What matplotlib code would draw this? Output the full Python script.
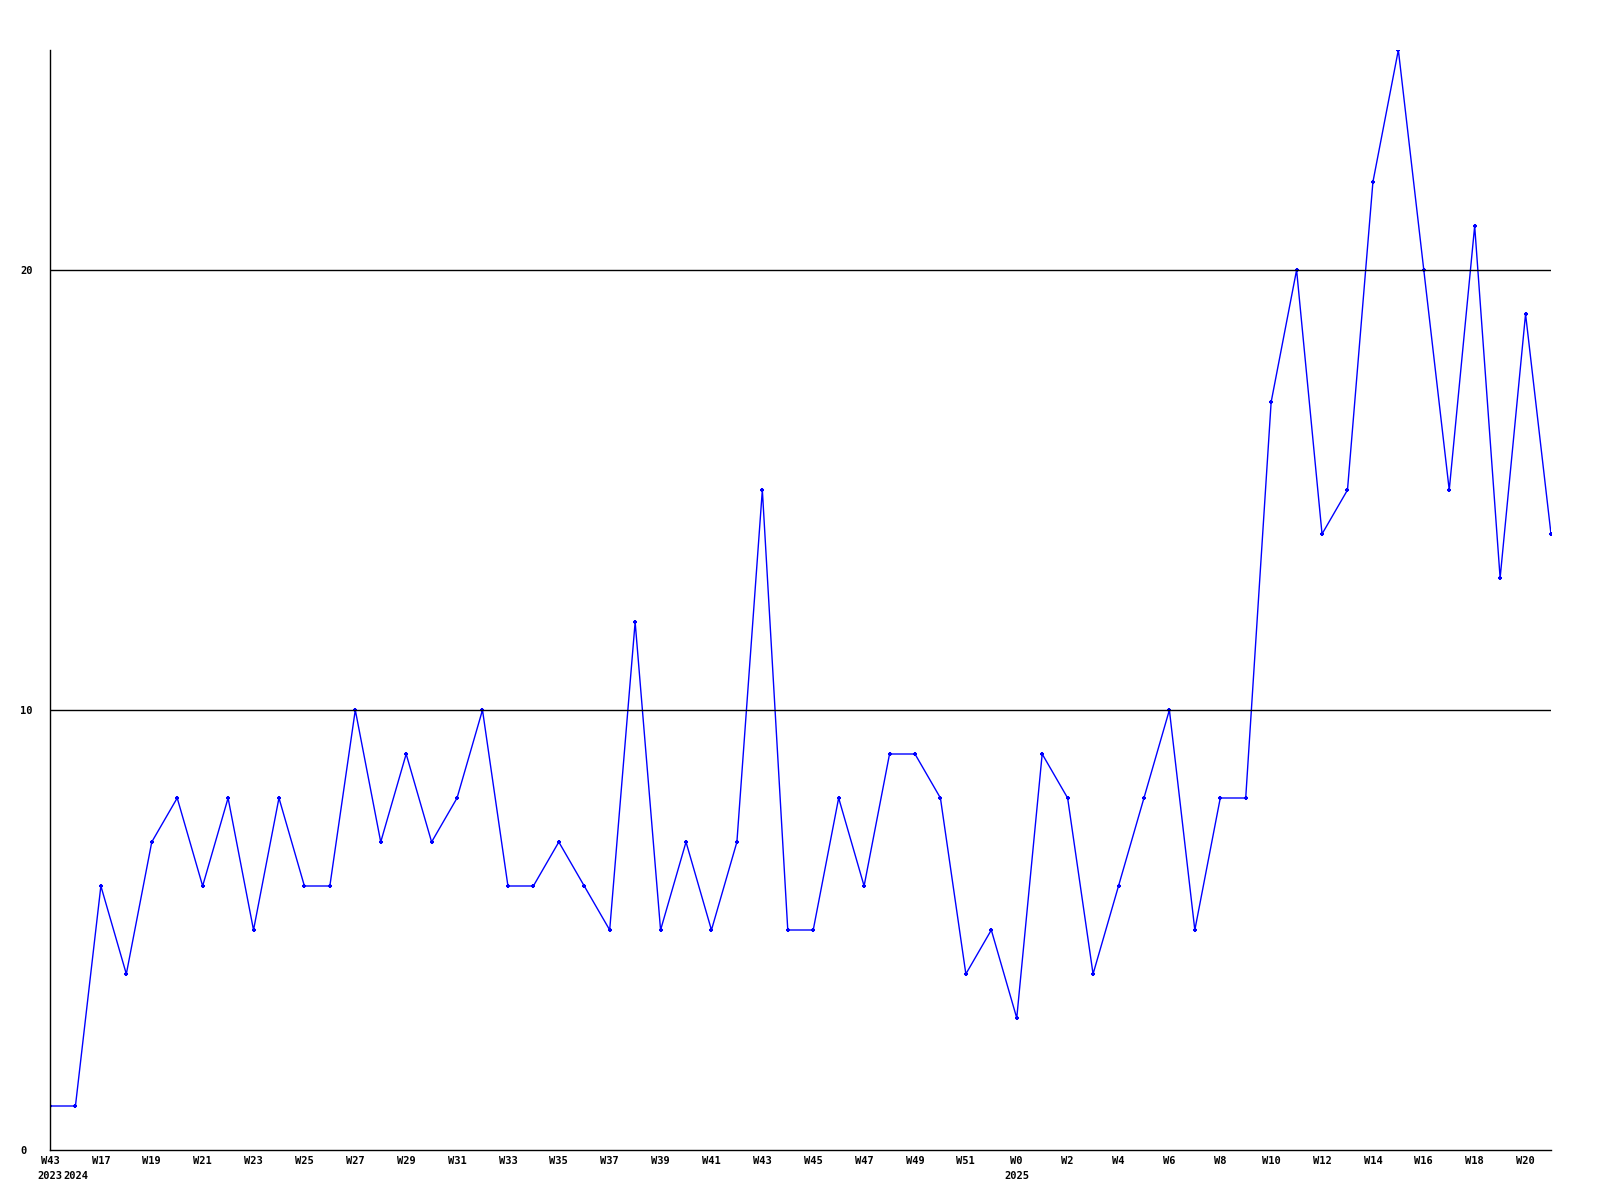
import matplotlib
matplotlib.use("Agg")
import matplotlib.pyplot as plt

# week labels for each point (2023 W43, then 2024 W16 .. 2025 W21)
weeks = ["W43"] + ["W%d" % w for w in range(16, 53)] + ["W%d" % w for w in range(0, 22)]
years = {0: "2023", 1: "2024", 38: "2025"}
values = [1, 1, 6, 4, 7, 8, 6, 8, 5, 8, 6, 6, 10, 7, 9, 7, 8, 10, 6, 6,
          7, 6, 5, 12, 5, 7, 5, 7, 15, 5, 5, 8, 6, 9, 9, 8, 4, 5, 3, 9,
          8, 4, 6, 8, 10, 5, 8, 8, 17, 20, 14, 15, 22, 25, 20, 15, 21, 13, 19, 14]
yticks = [0, 10, 20]

fig = plt.figure(figsize=(16, 12), dpi=100)
ax = fig.add_axes([50 / 1600, 1 - 1150 / 1200, 1501 / 1600, 1100 / 1200])

x = list(range(len(values)))
for yv in yticks[1:]:
    ax.axhline(yv, color="black", lw=1, zorder=3)
ax.plot(x, values, color="#0000ff", lw=1, marker="+", ms=3.5, mew=1.5, zorder=2)

ax.set_xlim(0, len(values) - 1)
ax.set_ylim(0, 25)

font = dict(family="DejaVu Sans Mono", weight="bold", size=7.5)

ticks = [i for i in x if i % 2 == 0 or i in years]
labels = []
for i in ticks:
    w = weeks[i] if i % 2 == 0 else ""
    labels.append(w + ("\n" + years[i] if i in years else ""))
ax.set_xticks(ticks)
ax.set_xticklabels(labels, fontdict=font, linespacing=1.65, va="top")
ax.set_yticks(yticks)
ax.set_yticklabels([str(v) for v in yticks], fontdict=font, ha="left")
ax.tick_params(axis="x", length=0, pad=4)
ax.tick_params(axis="y", length=0, pad=21.6)

for s in ["top", "right"]:
    ax.spines[s].set_visible(False)
for s in ["left", "bottom"]:
    ax.spines[s].set_color("black")
    ax.spines[s].set_linewidth(1)

fig.savefig("out.png", dpi=100)
